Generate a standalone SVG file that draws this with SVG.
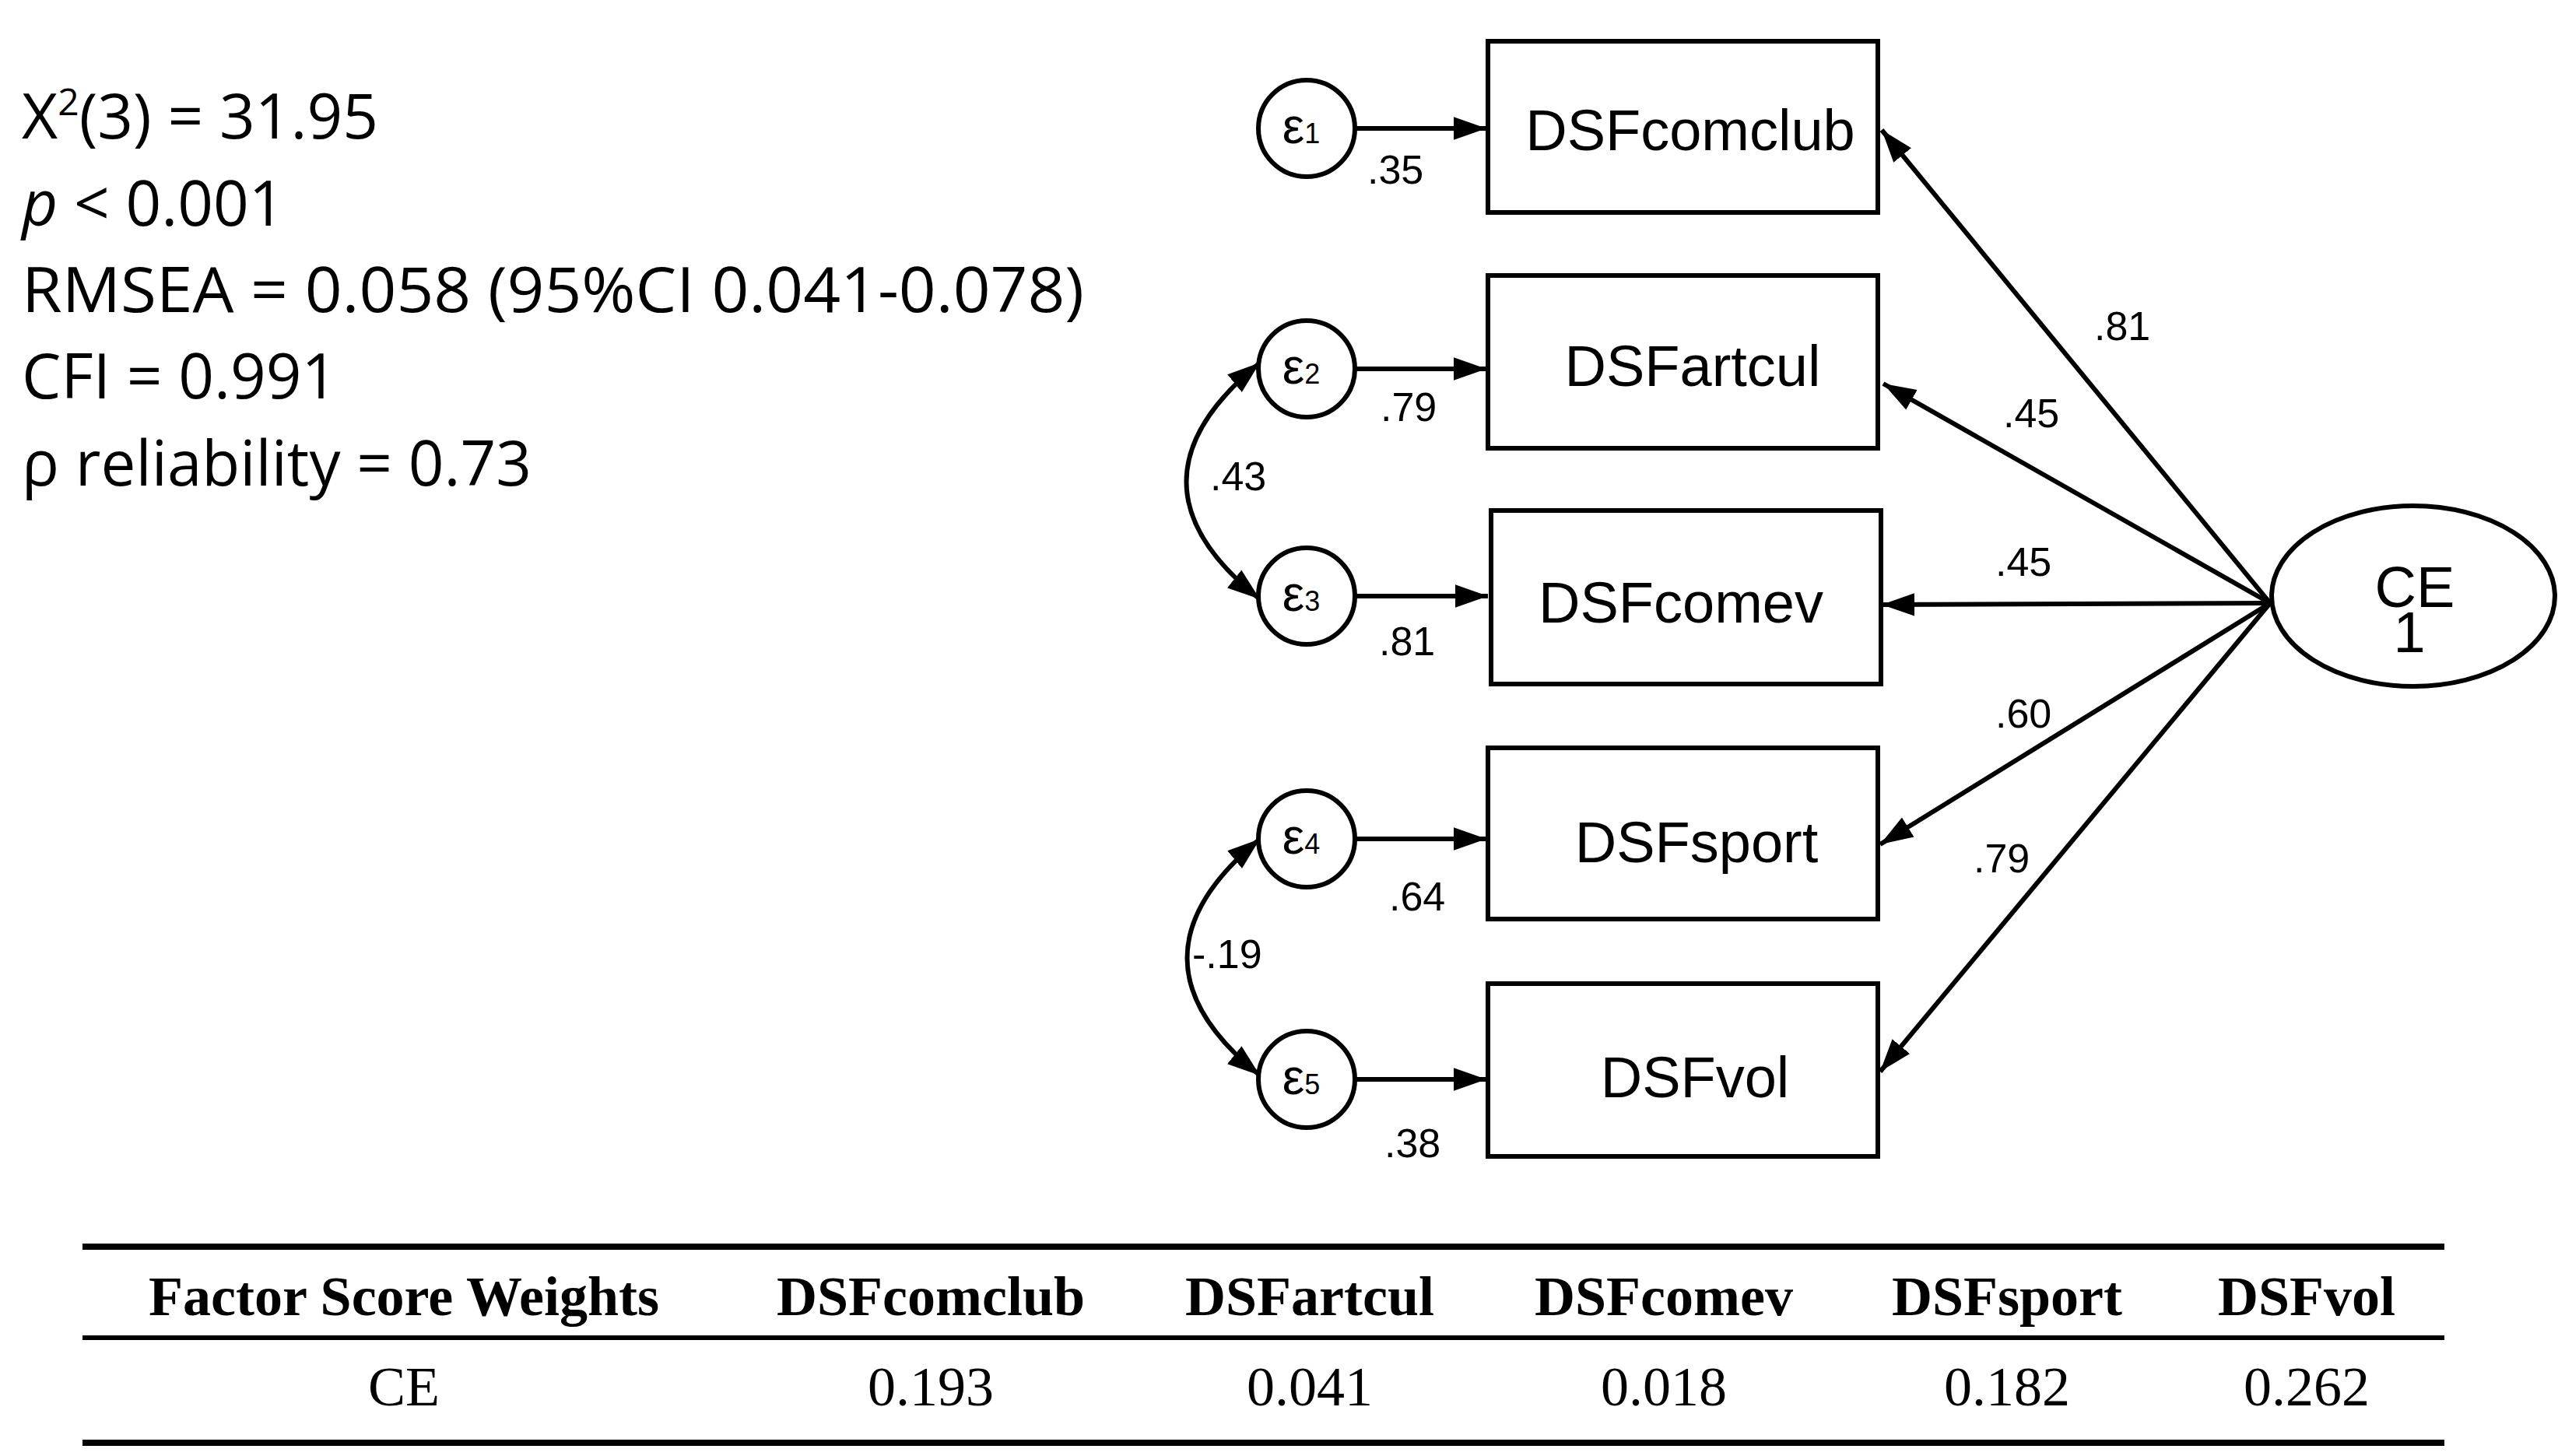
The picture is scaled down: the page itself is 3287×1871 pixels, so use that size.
<svg xmlns="http://www.w3.org/2000/svg" width="3287" height="1871" viewBox="0 0 3287 1871">
<defs>
<marker id="ahs" viewBox="0 0 10 10" refX="10" refY="5" markerWidth="42" markerHeight="42" markerUnits="userSpaceOnUse" orient="auto-start-reverse"><path d="M0,1.5 L10,5 L0,8.5 z" fill="#000"/></marker>
</defs>
<style>
.box{fill:#fff;stroke:#000;stroke-width:6}
.nt{font-family:"Liberation Sans",Arial,sans-serif;font-size:74px;text-anchor:middle}
.lbl{font-family:"Liberation Sans",Arial,sans-serif;font-size:52px}
.eps{font-family:"Liberation Sans",Arial,sans-serif;font-size:64px;text-anchor:middle}
.st{font-family:"Open Sans","Liberation Sans",sans-serif;font-size:80px}
.th{font-family:"Liberation Serif","Times New Roman",serif;font-size:72px;font-weight:bold;text-anchor:middle}
.td{font-family:"Liberation Serif","Times New Roman",serif;font-size:72px;text-anchor:middle}
.ln{stroke:#000;stroke-width:6;fill:none}
</style>
<rect width="3287" height="1871" fill="#fff"/>
<g id="stats">
<text class="st" x="28" y="178">X<tspan font-size="48" dy="-30">2</tspan><tspan dy="30">(3) = 31.95</tspan></text>
<text class="st" x="28" y="290"><tspan font-style="italic">p</tspan> &lt; 0.001</text>
<text class="st" x="28" y="401" textLength="1365" lengthAdjust="spacingAndGlyphs">RMSEA = 0.058 (95%CI 0.041-0.078)</text>
<text class="st" x="28" y="512">CFI = 0.991</text>
<text class="st" x="28" y="624">ρ reliability = 0.73</text>
</g>
<g id="connectors">
<line class="ln" x1="1742" y1="165" x2="1910" y2="165" marker-end="url(#ahs)"/>
<line class="ln" x1="1742" y1="474" x2="1910" y2="474" marker-end="url(#ahs)"/>
<line class="ln" x1="1742" y1="766" x2="1912" y2="766" marker-end="url(#ahs)"/>
<line class="ln" x1="1742" y1="1078" x2="1910" y2="1078" marker-end="url(#ahs)"/>
<line class="ln" x1="1742" y1="1387" x2="1910" y2="1387" marker-end="url(#ahs)"/>
<line class="ln" x1="2917" y1="775" x2="2418" y2="167" marker-end="url(#ahs)"/>
<line class="ln" x1="2917" y1="775" x2="2420" y2="493" marker-end="url(#ahs)"/>
<line class="ln" x1="2917" y1="775" x2="2418" y2="777" marker-end="url(#ahs)"/>
<line class="ln" x1="2917" y1="775" x2="2416" y2="1085" marker-end="url(#ahs)"/>
<line class="ln" x1="2917" y1="775" x2="2416" y2="1377" marker-end="url(#ahs)"/>
<path class="ln" d="M1619,466 Q1430,620 1619,770" marker-start="url(#ahs)" marker-end="url(#ahs)"/>
<path class="ln" d="M1619,1078 Q1432,1232 1619,1382" marker-start="url(#ahs)" marker-end="url(#ahs)"/>
<text class="lbl" x="1757" y="236">.35</text>
<text class="lbl" x="1774" y="541">.79</text>
<text class="lbl" x="1772" y="842">.81</text>
<text class="lbl" x="1785" y="1170">.64</text>
<text class="lbl" x="1779" y="1487">.38</text>
<text class="lbl" x="1555" y="630">.43</text>
<text class="lbl" x="1532" y="1244">-.19</text>
<text class="lbl" x="2691" y="437">.81</text>
<text class="lbl" x="2574" y="549">.45</text>
<text class="lbl" x="2564" y="740">.45</text>
<text class="lbl" x="2564" y="935">.60</text>
<text class="lbl" x="2536" y="1121">.79</text>
</g>
<g id="e1"><circle class="box" cx="1679" cy="165" r="62"/><text class="eps" x="1672" y="184">ε<tspan font-size="36">1</tspan></text></g>
<g id="e2"><circle class="box" cx="1679" cy="474" r="62"/><text class="eps" x="1672" y="493">ε<tspan font-size="36">2</tspan></text></g>
<g id="e3"><circle class="box" cx="1679" cy="766" r="62"/><text class="eps" x="1672" y="785">ε<tspan font-size="36">3</tspan></text></g>
<g id="e4"><circle class="box" cx="1679" cy="1078" r="62"/><text class="eps" x="1672" y="1097">ε<tspan font-size="36">4</tspan></text></g>
<g id="e5"><circle class="box" cx="1679" cy="1387" r="62"/><text class="eps" x="1672" y="1406">ε<tspan font-size="36">5</tspan></text></g>
<g id="n1"><rect class="box" x="1912" y="53" width="501" height="220"/><text class="nt" x="2172" y="193">DSFcomclub</text></g>
<g id="n2"><rect class="box" x="1912" y="354" width="501" height="222"/><text class="nt" x="2175" y="496">DSFartcul</text></g>
<g id="n3"><rect class="box" x="1916" y="656" width="501" height="223"/><text class="nt" x="2160" y="800">DSFcomev</text></g>
<g id="n4"><rect class="box" x="1912" y="961" width="501" height="220"/><text class="nt" x="2180" y="1108">DSFsport</text></g>
<g id="n5"><rect class="box" x="1912" y="1264" width="501" height="222"/><text class="nt" x="2178" y="1410">DSFvol</text></g>
<g id="ce"><ellipse class="box" cx="3101" cy="766" rx="182" ry="116"/><text class="nt" x="3103" y="780">CE</text><text class="nt" x="3096" y="838" font-size="48">1</text></g>
<g id="table">
<rect x="106" y="1598" width="3035" height="8"/>
<rect x="106" y="1716" width="3035" height="6"/>
<rect x="106" y="1850" width="3035" height="8"/>
<text class="th" x="519" y="1690">Factor Score Weights</text>
<text class="th" x="1196" y="1690">DSFcomclub</text>
<text class="th" x="1683" y="1690">DSFartcul</text>
<text class="th" x="2138" y="1690">DSFcomev</text>
<text class="th" x="2579" y="1690">DSFsport</text>
<text class="th" x="2964" y="1690">DSFvol</text>
<text class="td" x="519" y="1806">CE</text>
<text class="td" x="1196" y="1806">0.193</text>
<text class="td" x="1683" y="1806">0.041</text>
<text class="td" x="2138" y="1806">0.018</text>
<text class="td" x="2579" y="1806">0.182</text>
<text class="td" x="2964" y="1806">0.262</text>
</g>
</svg>
